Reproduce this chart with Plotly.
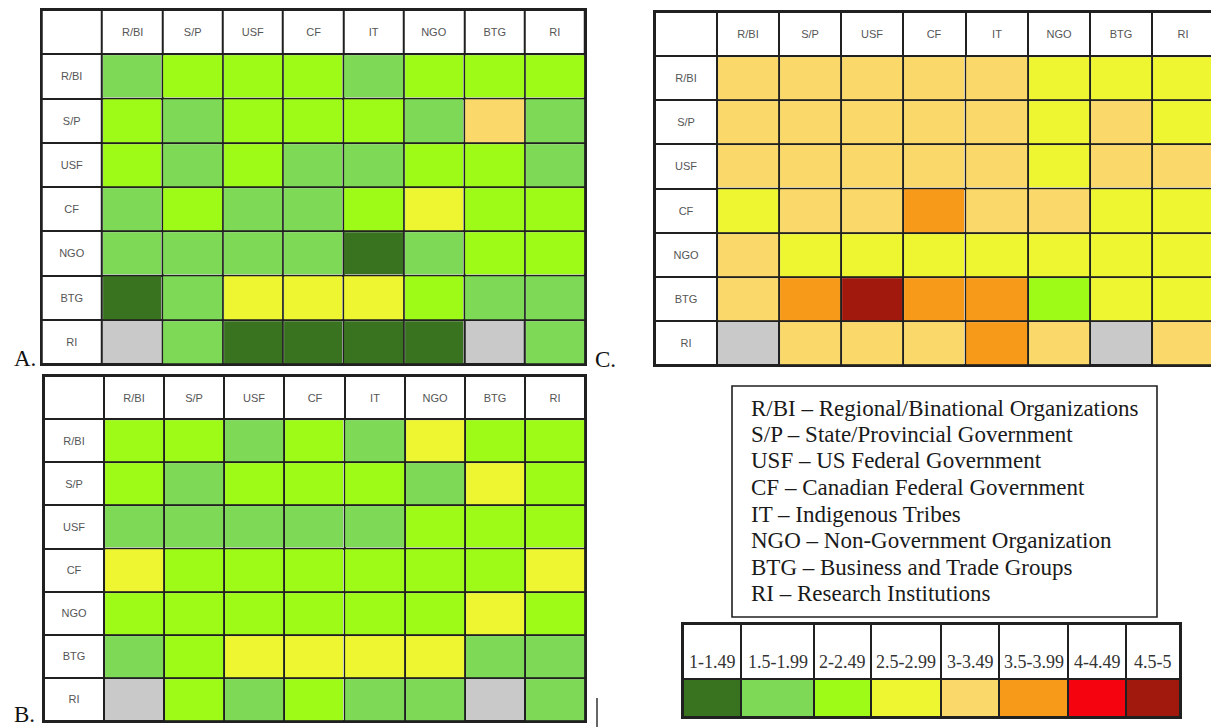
import plotly.graph_objects as go

# ---------------- data ----------------
COLS = ["R/BI", "S/P", "USF", "CF", "IT", "NGO", "BTG", "RI"]
ROWS = ["R/BI", "S/P", "USF", "CF", "NGO", "BTG", "RI"]
NA = None

GRID_A = [
    [1.75, 2.25, 2.25, 2.25, 1.75, 2.25, 2.25, 2.25],
    [2.25, 1.75, 2.25, 2.25, 2.25, 1.75, 3.25, 1.75],
    [2.25, 1.75, 2.25, 1.75, 1.75, 2.25, 2.25, 1.75],
    [1.75, 2.25, 1.75, 1.75, 2.25, 2.75, 2.25, 2.25],
    [1.75, 1.75, 1.75, 1.75, 1.25, 1.75, 2.25, 2.25],
    [1.25, 1.75, 2.75, 2.75, 2.75, 2.25, 1.75, 1.75],
    [NA,   1.75, 1.25, 1.25, 1.25, 1.25, NA,   1.75],
]
GRID_B = [
    [2.25, 2.25, 1.75, 2.25, 1.75, 2.75, 2.25, 2.25],
    [2.25, 1.75, 2.25, 2.25, 2.25, 1.75, 2.75, 2.25],
    [1.75, 1.75, 1.75, 1.75, 1.75, 2.25, 2.25, 2.25],
    [2.75, 2.25, 2.25, 2.25, 2.25, 2.25, 2.25, 2.75],
    [2.25, 2.25, 2.25, 2.25, 2.25, 2.25, 2.75, 2.25],
    [1.75, 2.25, 2.75, 2.75, 2.75, 2.75, 1.75, 1.75],
    [NA,   2.25, 1.75, 2.25, 1.75, 1.75, NA,   1.75],
]
GRID_C = [
    [3.25, 3.25, 3.25, 3.25, 3.25, 2.75, 2.75, 2.75],
    [3.25, 3.25, 3.25, 3.25, 3.25, 2.75, 3.25, 2.75],
    [3.25, 3.25, 3.25, 3.25, 3.25, 2.75, 3.25, 3.25],
    [2.75, 3.25, 3.25, 3.75, 3.25, 3.25, 2.75, 2.75],
    [3.25, 2.75, 2.75, 2.75, 2.75, 2.75, 2.75, 2.75],
    [3.25, 3.75, 4.75, 3.75, 3.75, 2.25, 2.75, 2.75],
    [NA,   3.25, 3.25, 3.25, 3.75, 3.25, NA,   3.25],
]

LEGEND_LABELS = ["1-1.49", "1.5-1.99", "2-2.49", "2.5-2.99",
                 "3-3.49", "3.5-3.99", "4-4.49", "4.5-5"]
LEGEND_VALUES = [1.25, 1.75, 2.25, 2.75, 3.25, 3.75, 4.25, 4.75]

KEY_LINES = [
    "R/BI – Regional/Binational Organizations",
    "S/P – State/Provincial Government",
    "USF – US Federal Government",
    "CF – Canadian Federal Government",
    "IT – Indigenous Tribes",
    "NGO – Non-Government Organization",
    "BTG – Business and Trade Groups",
    "RI – Research Institutions",
]

# ---------------- styles / layout ----------------
BIN_COLORS = ["#39731f", "#7dd956", "#9efa17", "#eef632",
              "#fad869", "#f89a19", "#f5040f", "#a1180d"]
NA_COLOR = "#c9c9c9"
LINE = "#202020"
W, H = 1211, 727
LEGEND_COL_WIDTHS = [58, 73, 57, 70, 58, 69, 58, 54]


def dx(a, b):
    return [a / W, b / W]


def dy(top, bottom):
    return [1 - bottom / H, 1 - top / H]


step = []
n = len(BIN_COLORS)
for i, c in enumerate(BIN_COLORS):
    step.append([i / n, c])
    step.append([(i + 1) / n, c])

fig = go.Figure()
layout = dict(width=W, height=H, margin=dict(l=0, r=0, t=0, b=0),
              paper_bgcolor="white", plot_bgcolor=LINE, showlegend=False)

panels = [
    ("A.", GRID_A, (41.7, 585), (10, 364), 8.5, True, (12, 358)),
    ("B.", GRID_B, (44, 585), (376, 721), 8.5, True, (12, 714)),
    ("C.", GRID_C, (655, 1211), (12, 365), -0.5 + (1211 - 655) / 62.1, False, (593, 360)),
]

annotations = []
for k, (lab, grid, xd, yd, xend, mirror_r, lpos) in enumerate(panels, start=1):
    xa = "x" if k == 1 else f"x{k}"
    ya = "y" if k == 1 else f"y{k}"
    nr, nc = len(ROWS) + 1, len(COLS) + 1
    fz = [[0 if (r == 0 or c == 0) else 1 for c in range(nc)] for r in range(nr)]
    ft = [["" for _ in range(nc)] for _ in range(nr)]
    for c, name in enumerate(COLS):
        ft[0][c + 1] = name
    for r, name in enumerate(ROWS):
        ft[r + 1][0] = name
    fig.add_trace(go.Heatmap(
        z=fz, x=list(range(nc)), y=list(range(nr)), text=ft,
        texttemplate="%{text}",
        textfont=dict(family="Liberation Sans", size=11, color="#555555"),
        colorscale=[[0, "white"], [1, NA_COLOR]], zmin=0, zmax=1,
        showscale=False, xgap=2, ygap=2, hoverinfo="skip",
        xaxis=xa, yaxis=ya))
    fig.add_trace(go.Heatmap(
        z=grid, x=list(range(1, nc)), y=list(range(1, nr)),
        colorscale=step, zmin=1, zmax=5, showscale=False,
        xgap=2, ygap=2, xaxis=xa, yaxis=ya,
        customdata=[[f"{ROWS[r]} / {COLS[c]}" for c in range(len(COLS))] for r in range(len(ROWS))],
        hovertemplate="%{customdata}: %{z}<extra></extra>"))
    axx = dict(domain=dx(*xd), range=[-0.5, xend], anchor=ya, showgrid=False,
               zeroline=False, showticklabels=False, ticks="",
               showline=True, mirror=True, linecolor=LINE, linewidth=2)
    axy = dict(domain=dy(*yd), range=[nr - 0.5, -0.5], anchor=xa, showgrid=False,
               zeroline=False, showticklabels=False, ticks="",
               showline=True, mirror=mirror_r, linecolor=LINE, linewidth=2)
    layout["xaxis" if k == 1 else f"xaxis{k}"] = axx
    layout["yaxis" if k == 1 else f"yaxis{k}"] = axy
    annotations.append(dict(text=lab, xref="paper", yref="paper",
                            x=lpos[0] / W, y=1 - lpos[1] / H,
                            xanchor="left", yanchor="middle", showarrow=False,
                            font=dict(family="Liberation Serif", size=23, color="#111111")))

# colour-class legend table
edges = [0]
for w_ in LEGEND_COL_WIDTHS:
    edges.append(edges[-1] + w_)
COLOR_ROW_H, HEAD_H = 38, 55
fig.add_trace(go.Heatmap(
    z=[[0] * len(LEGEND_LABELS)], x=edges, y=[COLOR_ROW_H, COLOR_ROW_H + HEAD_H],
    colorscale=[[0, "white"], [1, "white"]], zmin=0, zmax=1, showscale=False,
    xgap=2, ygap=2, hoverinfo="skip", xaxis="x4", yaxis="y4"))
fig.add_trace(go.Heatmap(
    z=[LEGEND_VALUES], x=edges, y=[0, COLOR_ROW_H],
    colorscale=step, zmin=1, zmax=5, showscale=False,
    xgap=2, ygap=2, xaxis="x4", yaxis="y4",
    customdata=[LEGEND_LABELS], hovertemplate="%{customdata}<extra></extra>"))
layout["xaxis4"] = dict(domain=dx(683, 683 + edges[-1]), range=[0, edges[-1]], anchor="y4",
                        showgrid=False, zeroline=False, showticklabels=False, ticks="",
                        showline=True, mirror=True, linecolor=LINE, linewidth=2)
layout["yaxis4"] = dict(domain=dy(624, 717), range=[0, COLOR_ROW_H + HEAD_H], anchor="x4",
                        showgrid=False, zeroline=False, showticklabels=False, ticks="",
                        showline=True, mirror=True, linecolor=LINE, linewidth=2)
for i, lab in enumerate(LEGEND_LABELS):
    annotations.append(dict(text=lab, xref="x4", yref="y4",
                            x=(edges[i] + edges[i + 1]) / 2, y=COLOR_ROW_H + 5,
                            xanchor="center", yanchor="bottom", showarrow=False,
                            font=dict(family="Liberation Serif", size=18, color="#333333")))

# abbreviation key
for i, line in enumerate(KEY_LINES):
    annotations.append(dict(text=line, xref="paper", yref="paper",
                            x=749 / W, y=1 - (408 + 26.5 * i) / H,
                            xanchor="left", yanchor="middle", showarrow=False,
                            font=dict(family="Liberation Serif", size=23, color="#1a1a1a")))

shapes = [
    dict(type="rect", xref="paper", yref="paper",
         x0=732 / W, x1=1157 / W, y0=1 - 617 / H, y1=1 - 386 / H,
         line=dict(color=LINE, width=1.6), fillcolor="rgba(0,0,0,0)"),
    dict(type="line", xref="paper", yref="paper",
         x0=597 / W, x1=597 / W, y0=1 - 698 / H, y1=0,
         line=dict(color="#333333", width=1.5)),
]

layout["annotations"] = annotations
layout["shapes"] = shapes
fig.update_layout(**layout)
fig.write_html("out.html",
               config={"displayModeBar": False},
               post_script="document.body.style.margin='0';document.body.style.overflow='hidden';")
